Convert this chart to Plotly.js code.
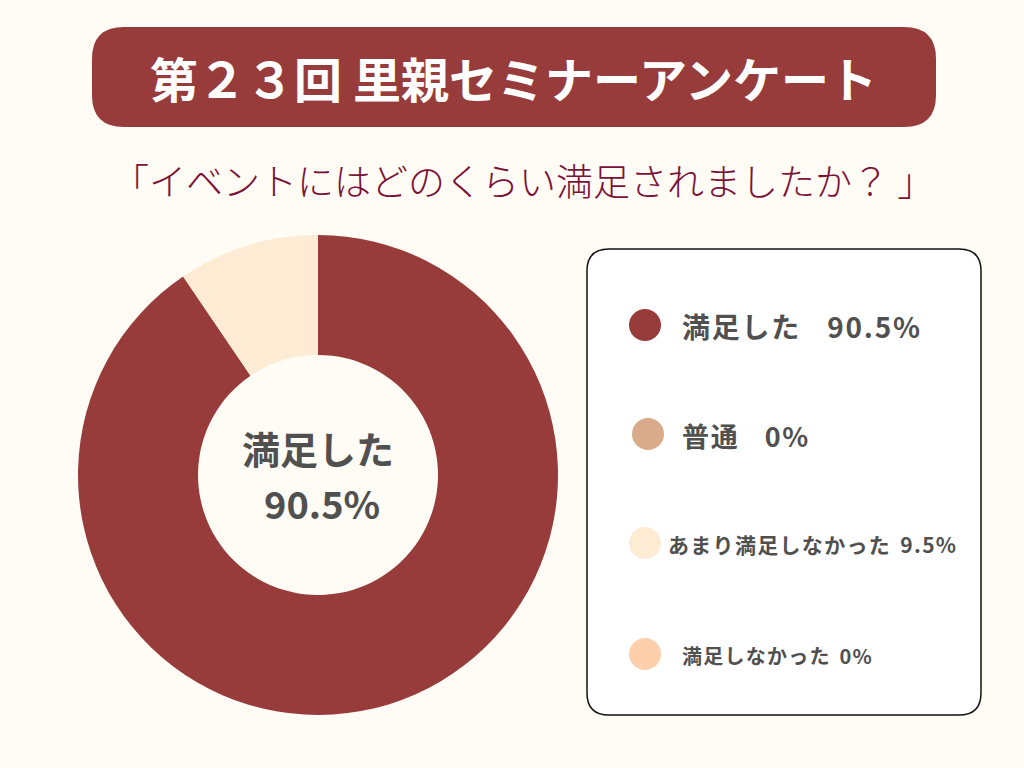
<!DOCTYPE html>
<html>
<head>
<meta charset="utf-8">
<script src="https://cdn.plot.ly/plotly-3.0.1.min.js"></script>
<style>
html,body{margin:0;padding:0;background:#FFFCF5;}
#chart{width:1024px;height:768px;}
</style>
</head>
<body>
<div id="chart"></div>
<script>
const categories = ["満足した", "普通", "あまり満足しなかった", "満足しなかった"];
const values = [90.5, 0, 9.5, 0];
const colors = ["#983B3B", "#D9AB8B", "#FDEBD3", "#FDCFAB"];
const titleText = "第２３回 里親セミナーアンケート";
const subtitleText = "「イベントにはどのくらい満足されましたか？ 」";

const W = 1024, H = 768;
const px = x => x / W;
const py = y => 1 - y / H;
const FONT = "Noto Sans CJK JP";

function roundRect(x0, y0, x1, y1, r) {
  const X0 = px(x0), X1 = px(x1), Y0 = py(y0), Y1 = py(y1);
  const rx = r / W, ry = r / H;
  return `M ${X0+rx},${Y0} L ${X1-rx},${Y0} Q ${X1},${Y0} ${X1},${Y0-ry} L ${X1},${Y1+ry} Q ${X1},${Y1} ${X1-rx},${Y1} L ${X0+rx},${Y1} Q ${X0},${Y1} ${X0},${Y1+ry} L ${X0},${Y0-ry} Q ${X0},${Y0} ${X0+rx},${Y0} Z`;
}
const spaced = s => s.split("").join("\u200A");

const cx = 318, cy = 475, R = 240;
const trace = {
  type: "pie",
  labels: categories,
  values: values,
  marker: {colors: colors},
  hole: 0.5,
  sort: false,
  direction: "clockwise",
  rotation: 0,
  textinfo: "none",
  hoverinfo: "none",
  showlegend: false,
  domain: {x: [px(cx - R), px(cx + R)], y: [py(cy + R), py(cy - R)]}
};

const shapes = [
  {type: "path", xref: "paper", yref: "paper", path: roundRect(92, 27, 936, 127, 32),
   fillcolor: "#983B3B", line: {width: 0}, layer: "below"},
  {type: "path", xref: "paper", yref: "paper", path: roundRect(587, 249, 981, 715, 22),
   fillcolor: "#FFFFFF", line: {color: "#111111", width: 1.5}, layer: "below"}
];

const legendY = [325, 434, 543, 654];
const legendCX = [645, 648, 645, 645];
const legendTextX = [680, 680, 666, 680];
const legendSizes = [28, 27, 21, 20];
const legendGaps = ["\u2003", "\u2003", "\u2002", "\u2002"];
const annotations = [
  {text: "<b>" + titleText + "</b>", x: px(513), y: py(77), xref: "paper", yref: "paper",
   showarrow: false, font: {family: FONT, size: 48, color: "#FFFFFF"}, xanchor: "center", yanchor: "middle"},
  {text: subtitleText, x: px(523), y: py(180), xref: "paper", yref: "paper",
   showarrow: false, font: {family: FONT, size: 37, color: "#7A1238", weight: 300}, xanchor: "center", yanchor: "middle"},
  {text: "<b>" + categories[0] + "</b>", x: px(cx), y: py(447), xref: "paper", yref: "paper",
   showarrow: false, font: {family: FONT, size: 38, color: "#505050"}, xanchor: "center", yanchor: "middle"},
  {text: "<b>" + values[0] + "%</b>", x: px(cx + 4), y: py(502), xref: "paper", yref: "paper",
   showarrow: false, font: {family: FONT, size: 38, color: "#505050"}, xanchor: "center", yanchor: "middle"}
];

categories.forEach((c, i) => {
  const r = 16;
  shapes.push({type: "circle", xref: "paper", yref: "paper",
    x0: px(legendCX[i] - r), x1: px(legendCX[i] + r), y0: py(legendY[i] + r), y1: py(legendY[i] - r),
    fillcolor: colors[i], line: {width: 0}});
  annotations.push({text: "<b>" + spaced(c) + legendGaps[i] + spaced(values[i] + "%") + "</b>",
    x: px(legendTextX[i]), y: py(legendY[i] + 1), xref: "paper", yref: "paper", showarrow: false,
    xanchor: "left", yanchor: "middle",
    font: {family: FONT, size: legendSizes[i], color: "#505050"}});
});

const layout = {
  width: W, height: H,
  margin: {l: 0, r: 0, t: 0, b: 0},
  paper_bgcolor: "#FFFCF5",
  plot_bgcolor: "#FFFCF5",
  showlegend: false,
  shapes: shapes,
  annotations: annotations
};

Plotly.newPlot("chart", [trace], layout, {displayModeBar: false, staticPlot: true});
</script>
</body>
</html>
